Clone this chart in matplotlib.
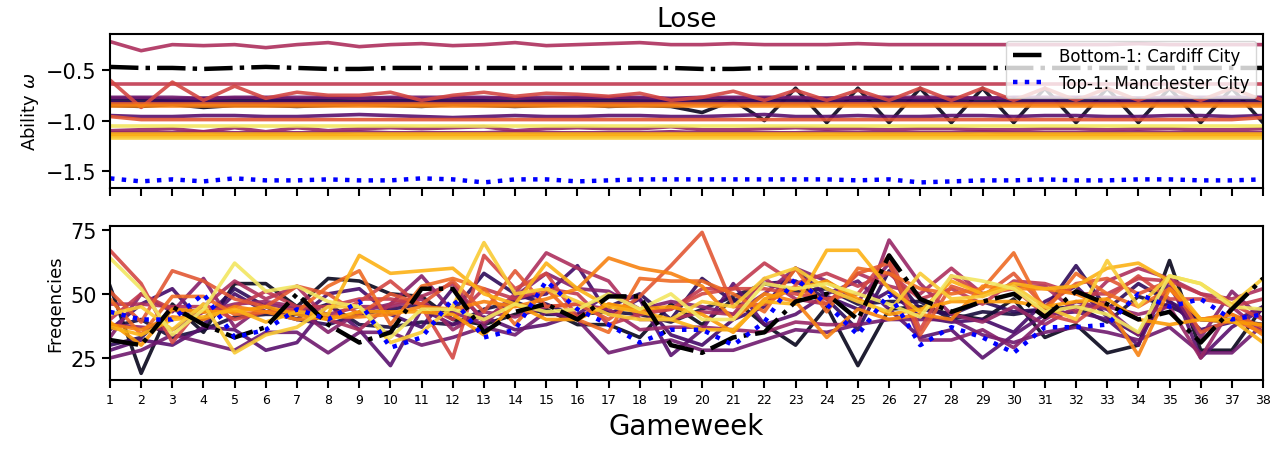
import numpy as np
import matplotlib
matplotlib.use("Agg")
import matplotlib.pyplot as plt

# gameweeks
weeks = list(range(1, 39))

# ability (lose) of the highlighted teams
cardiff_ability = [-0.47,-0.48,-0.48,-0.49,-0.48,-0.47,-0.48,-0.49,-0.49,-0.48,
                   -0.48,-0.48,-0.48,-0.48,-0.48,-0.48,-0.48,-0.48,-0.48,-0.49,
                   -0.49,-0.48,-0.48,-0.48,-0.48,-0.48,-0.48,-0.48,-0.48,-0.48,
                   -0.48,-0.48,-0.48,-0.48,-0.48,-0.48,-0.48,-0.48]
mancity_ability = [-1.57,-1.60,-1.58,-1.60,-1.57,-1.59,-1.59,-1.58,-1.59,-1.59,
                   -1.57,-1.58,-1.61,-1.58,-1.58,-1.60,-1.59,-1.58,-1.58,-1.58,
                   -1.58,-1.58,-1.58,-1.58,-1.59,-1.58,-1.61,-1.60,-1.59,-1.59,
                   -1.58,-1.59,-1.59,-1.58,-1.58,-1.59,-1.59,-1.58]

# ability of the other 18 teams (ordered by colour)
ability = [
    [-0.85,-0.86,-0.84,-0.87,-0.85,-0.85,-0.86,-0.85,-0.84,-0.85,-0.86,-0.84,-0.85,-0.86,-0.85,-0.84,-0.86,-0.85,-0.86,-0.92,
     -0.80,-1.00,-0.68,-1.02,-0.68,-1.02,-0.68,-1.02,-0.68,-1.02,-0.68,-1.02,-0.68,-1.02,-0.68,-1.02,-0.68,-1.02],
    [-0.80,-0.80,-0.81,-0.80,-0.80,-0.81,-0.80,-0.80,-0.81,-0.80,-0.80,-0.81,-0.80,-0.80,-0.81,-0.80,-0.80,-0.81,-0.80,-0.80,
     -0.81,-0.80,-0.80,-0.81,-0.80,-0.80,-0.81,-0.80,-0.80,-0.81,-0.80,-0.80,-0.81,-0.80,-0.80,-0.81,-0.80,-0.80],
    [-0.78,-0.78,-0.79,-0.78,-0.78,-0.78,-0.79,-0.78,-0.78,-0.78,-0.79,-0.78,-0.78,-0.78,-0.79,-0.78,-0.78,-0.78,-0.79,-0.78,
     -0.78,-0.78,-0.79,-0.78,-0.78,-0.78,-0.79,-0.78,-0.78,-0.78,-0.79,-0.78,-0.78,-0.78,-0.79,-0.78,-0.78,-0.78],
    [-0.82,-0.83,-0.82,-0.82,-0.83,-0.82,-0.82,-0.83,-0.82,-0.82,-0.83,-0.82,-0.82,-0.83,-0.82,-0.82,-0.83,-0.82,-0.82,-0.83,
     -0.82,-0.82,-0.83,-0.82,-0.82,-0.83,-0.82,-0.82,-0.83,-0.82,-0.82,-0.83,-0.82,-0.82,-0.83,-0.82,-0.82,-0.83],
    [-0.95,-0.96,-0.96,-0.95,-0.95,-0.96,-0.96,-0.95,-0.94,-0.95,-0.96,-0.97,-0.96,-0.95,-0.96,-0.96,-0.95,-0.95,-0.96,-0.96,
     -0.95,-0.94,-0.96,-0.96,-0.95,-0.96,-0.96,-0.95,-0.95,-0.96,-0.95,-0.95,-0.96,-0.96,-0.95,-0.95,-0.96,-0.95],
    [-0.77,-0.77,-0.77,-0.78,-0.77,-0.77,-0.77,-0.77,-0.78,-0.77,-0.77,-0.77,-0.77,-0.78,-0.77,-0.77,-0.77,-0.77,-0.78,-0.77,
     -0.77,-0.77,-0.77,-0.78,-0.77,-0.77,-0.77,-0.77,-0.78,-0.77,-0.77,-0.77,-0.77,-0.78,-0.77,-0.77,-0.77,-0.77],
    [-1.12,-1.12,-1.12,-1.11,-1.12,-1.12,-1.12,-1.12,-1.11,-1.12,-1.12,-1.12,-1.12,-1.11,-1.12,-1.12,-1.12,-1.12,-1.11,-1.12,
     -1.12,-1.12,-1.12,-1.11,-1.12,-1.12,-1.12,-1.12,-1.11,-1.12,-1.12,-1.12,-1.12,-1.11,-1.12,-1.12,-1.12,-1.12],
    [-1.10,-1.09,-1.08,-1.11,-1.07,-1.11,-1.07,-1.10,-1.08,-1.07,-1.08,-1.07,-1.06,-1.10,-1.08,-1.07,-1.08,-1.08,-1.06,-1.09,
     -1.09,-1.08,-1.07,-1.08,-1.08,-1.09,-1.08,-1.08,-1.09,-1.09,-1.08,-1.08,-1.09,-1.08,-1.08,-1.09,-1.09,-1.08],
    [-0.22,-0.31,-0.25,-0.26,-0.25,-0.28,-0.25,-0.23,-0.27,-0.25,-0.24,-0.26,-0.25,-0.23,-0.26,-0.25,-0.24,-0.23,-0.25,-0.25,
     -0.24,-0.25,-0.25,-0.25,-0.24,-0.25,-0.25,-0.25,-0.25,-0.25,-0.25,-0.25,-0.25,-0.24,-0.25,-0.25,-0.25,-0.25],
    [-0.64,-0.64,-0.64,-0.64,-0.64,-0.64,-0.64,-0.64,-0.64,-0.64,-0.64,-0.64,-0.64,-0.64,-0.64,-0.64,-0.64,-0.64,-0.64,-0.64,
     -0.64,-0.64,-0.64,-0.64,-0.64,-0.64,-0.64,-0.64,-0.64,-0.64,-0.64,-0.64,-0.64,-0.64,-0.64,-0.64,-0.64,-0.64],
    [-0.60,-0.87,-0.62,-0.80,-0.66,-0.78,-0.72,-0.75,-0.75,-0.72,-0.80,-0.75,-0.72,-0.76,-0.73,-0.74,-0.76,-0.73,-0.80,-0.77,
     -0.71,-0.80,-0.70,-0.80,-0.70,-0.80,-0.68,-0.80,-0.68,-0.80,-0.68,-0.80,-0.68,-0.80,-0.68,-0.80,-0.68,-0.80],
    [-0.96,-0.99,-0.99,-0.99,-0.99,-0.99,-0.99,-0.99,-0.99,-0.99,-0.99,-0.99,-0.99,-0.99,-0.99,-0.99,-0.99,-0.99,-0.99,-0.99,
     -0.99,-0.99,-0.99,-0.99,-0.99,-0.99,-0.99,-0.99,-0.99,-0.99,-0.99,-0.99,-0.99,-0.99,-0.99,-0.99,-0.99,-0.97],
    [-0.84,-0.84,-0.84,-0.84,-0.84,-0.84,-0.84,-0.84,-0.84,-0.84,-0.84,-0.84,-0.84,-0.84,-0.84,-0.84,-0.84,-0.84,-0.84,-0.84,
     -0.84,-0.84,-0.84,-0.84,-0.84,-0.84,-0.84,-0.84,-0.84,-0.84,-0.84,-0.84,-0.84,-0.84,-0.84,-0.84,-0.84,-0.84],
    [-0.86,-0.86,-0.86,-0.86,-0.86,-0.86,-0.86,-0.86,-0.86,-0.86,-0.86,-0.86,-0.86,-0.86,-0.86,-0.86,-0.86,-0.86,-0.86,-0.86,
     -0.86,-0.86,-0.86,-0.86,-0.86,-0.86,-0.86,-0.86,-0.86,-0.86,-0.86,-0.86,-0.86,-0.86,-0.86,-0.86,-0.86,-0.86],
    [-1.15,-1.15,-1.15,-1.15,-1.15,-1.15,-1.15,-1.15,-1.15,-1.15,-1.15,-1.15,-1.15,-1.15,-1.15,-1.15,-1.15,-1.15,-1.15,-1.15,
     -1.15,-1.15,-1.15,-1.15,-1.15,-1.15,-1.15,-1.15,-1.15,-1.15,-1.15,-1.15,-1.15,-1.15,-1.15,-1.15,-1.15,-1.15],
    [-1.13,-1.13,-1.13,-1.13,-1.13,-1.13,-1.13,-1.13,-1.13,-1.13,-1.13,-1.13,-1.13,-1.13,-1.13,-1.13,-1.13,-1.13,-1.13,-1.13,
     -1.13,-1.13,-1.13,-1.13,-1.13,-1.13,-1.13,-1.13,-1.13,-1.13,-1.13,-1.13,-1.13,-1.13,-1.13,-1.13,-1.13,-1.13],
    [-1.17,-1.17,-1.17,-1.17,-1.17,-1.17,-1.17,-1.17,-1.17,-1.17,-1.17,-1.17,-1.17,-1.17,-1.17,-1.17,-1.17,-1.17,-1.17,-1.17,
     -1.17,-1.17,-1.17,-1.17,-1.17,-1.17,-1.17,-1.17,-1.17,-1.17,-1.17,-1.17,-1.17,-1.17,-1.17,-1.17,-1.17,-1.17],
    [-1.05,-1.05,-1.05,-1.05,-1.05,-1.05,-1.05,-1.05,-1.05,-1.05,-1.05,-1.05,-1.05,-1.05,-1.05,-1.05,-1.05,-1.05,-1.05,-1.05,
     -1.05,-1.05,-1.05,-1.05,-1.05,-1.05,-1.05,-1.05,-1.05,-1.05,-1.05,-1.05,-1.05,-1.05,-1.05,-1.05,-1.05,-1.05],
]

# lose frequencies of the highlighted teams
cardiff_freq = [32,30,45,38,33,37,50,38,31,35,52,52,35,43,46,40,49,49,30,27,
                33,35,47,50,40,65,48,43,47,50,41,51,46,40,43,31,44,56]
mancity_freq = [43,40,40,50,33,36,44,40,47,29,33,48,33,36,55,44,38,31,36,36,
                30,39,56,46,34,50,30,37,33,27,37,37,38,50,45,48,40,42]

# lose frequencies of the other 18 teams
freq = [
    [53,19,46,35,54,54,45,56,55,50,49,40,38,42,44,38,38,33,46,38,48,38,30,45,22,44,45,42,40,48,33,38,27,30,63,28,28,45],
    [37,40,33,36,41,42,42,46,38,37,39,38,44,47,42,42,43,42,39,44,49,54,51,52,46,47,47,40,43,42,44,45,39,49,45,40,40,38],
    [30,33,44,40,52,45,40,38,42,44,46,43,58,50,46,41,45,50,40,56,47,54,55,48,36,59,44,42,47,43,44,61,44,54,47,40,39,38],
    [36,46,52,38,50,43,40,50,52,42,37,52,40,48,50,61,42,48,34,30,40,45,60,49,44,51,41,39,40,35,47,53,41,34,47,36,39,45],
    [28,32,30,37,36,28,31,46,36,22,44,38,41,36,38,42,50,48,26,36,54,38,42,50,55,44,33,36,25,34,42,43,40,30,56,25,37,44],
    [25,28,34,31,28,35,35,27,35,35,30,33,37,34,43,40,27,30,32,28,28,32,36,35,38,40,40,40,34,31,35,37,35,32,37,27,27,38],
    [33,50,43,56,37,46,44,35,43,46,57,43,38,49,58,52,51,44,47,45,42,50,60,55,47,62,32,32,36,29,40,47,44,34,53,33,51,40],
    [38,37,36,43,46,47,45,42,45,45,48,36,43,41,45,46,44,36,37,37,36,35,39,38,38,71,54,42,39,45,38,45,45,42,45,25,45,35],
    [46,46,45,45,55,48,53,40,36,46,49,54,39,50,66,60,55,40,40,43,42,56,48,46,58,53,50,60,50,53,53,43,55,60,56,50,48,52],
    [40,50,44,43,45,51,45,45,48,48,46,40,52,48,52,50,38,42,44,52,52,62,54,58,53,58,48,52,46,55,54,50,50,56,55,50,45,48],
    [67,54,31,46,40,43,44,40,47,55,45,25,65,52,58,41,46,43,44,50,52,52,50,48,50,65,36,57,50,52,42,39,48,57,48,48,46,40],
    [51,39,59,55,48,45,53,50,42,50,46,55,43,59,45,46,40,49,61,74,45,46,53,46,58,62,34,53,49,58,45,54,56,50,55,35,40,35],
    [48,34,49,49,42,43,43,53,59,38,53,56,52,38,52,40,35,56,55,55,50,43,60,43,60,58,52,50,52,66,43,58,50,45,52,40,42,37],
    [38,36,41,40,45,43,40,41,41,42,45,44,47,45,48,52,64,60,58,53,40,50,47,33,44,40,42,40,53,52,52,50,45,26,52,40,42,34],
    [39,30,44,43,43,45,42,40,43,43,43,42,34,46,40,40,46,44,45,42,35,48,52,55,48,42,44,47,47,47,45,47,48,40,38,40,39,38],
    [37,34,40,41,44,39,43,42,65,58,59,60,50,46,62,52,45,43,40,36,36,47,46,67,67,52,43,55,50,54,52,53,60,62,55,40,40,31],
    [42,45,36,46,27,34,37,45,45,31,35,45,70,50,52,47,42,40,40,47,45,56,60,52,47,43,58,48,49,53,45,40,63,45,57,54,46,56],
    [64,52,34,44,62,51,53,47,45,33,44,44,40,46,43,44,50,44,50,40,40,54,52,54,50,46,41,57,55,52,43,45,42,35,57,54,45,44],
]

colors = plt.cm.inferno(np.linspace(0.05, 0.93, len(ability)))

fig = plt.figure(figsize=(12.88, 4.52), dpi=100)
ax1 = fig.add_axes([0.0854, 0.5819, 0.8952, 0.3407])
ax2 = fig.add_axes([0.0854, 0.1571, 0.8952, 0.3414], sharex=ax1)

# top: ability
for i in range(len(ability)):
    ax1.plot(weeks, ability[i], color=colors[i], lw=2.6, alpha=0.9)
ax1.plot(weeks, cardiff_ability, 'k-.', lw=3.2, label='Bottom-1: Cardiff City')
ax1.plot(weeks, mancity_ability, color='blue', ls=':', lw=3.2, label='Top-1: Manchester City')
ax1.set_ylim(-1.665, -0.145)
ax1.set_yticks([-1.5, -1.0, -0.5])
ax1.set_ylabel(r'Ability $\omega$', fontsize=13)
ax1.set_title('Lose', fontsize=19)
ax1.legend(loc='upper right', fontsize=12, borderaxespad=0.4)
ax1.tick_params(axis='x', labelbottom=False)

# bottom: frequencies
for i in range(len(freq)):
    ax2.plot(weeks, freq[i], color=colors[i], lw=2.6, alpha=0.9)
ax2.plot(weeks, cardiff_freq, 'k-.', lw=3.2)
ax2.plot(weeks, mancity_freq, color='blue', ls=':', lw=3.2)
ax2.set_ylim(16.4, 76.6)
ax2.set_yticks([25, 50, 75])
ax2.set_ylabel('Freqencies', fontsize=13)
ax2.set_xlabel('Gameweek', fontsize=20)
ax2.set_xlim(1, 38)
ax2.set_xticks(weeks)

for ax in (ax1, ax2):
    ax.tick_params(axis='y', labelsize=15, length=6, width=1.5)
    ax.tick_params(axis='x', labelsize=9, length=6, width=1.5)
    for s in ax.spines.values():
        s.set_linewidth(1.5)

fig.savefig('out.png', dpi=100)
